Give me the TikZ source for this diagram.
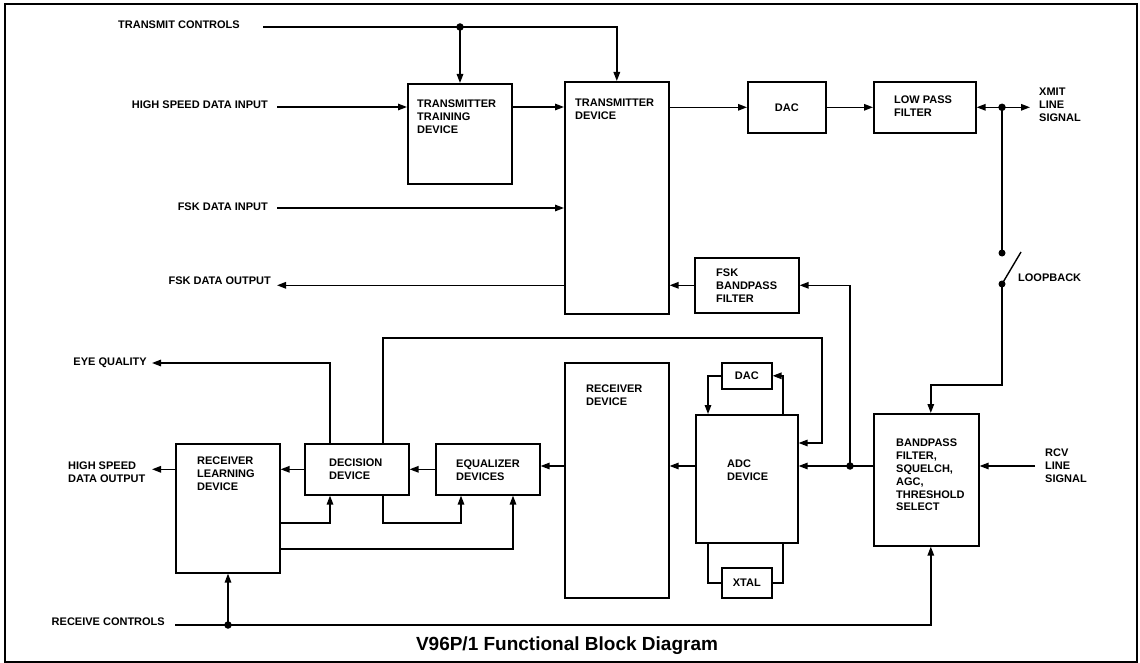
\documentclass[tikz,border=0pt]{standalone}
\usepackage{fontspec}
\setmainfont{Liberation Sans}
\usetikzlibrary{arrows.meta}
\begin{document}
\begin{tikzpicture}[x=1pt,y=-1pt,
  blk/.style={draw,line width=1.6pt,inner sep=0pt,anchor=north west},
  lbl/.style={font=\fontsize{11}{12.8}\selectfont\bfseries,inner sep=0pt,align=left},
  ctr/.style={font=\fontsize{11}{12.8}\selectfont\bfseries,inner sep=0pt},
  wire/.style={line width=1.4pt},
  arr/.style={wire,-{Triangle[length=9pt,width=6.5pt]}},
  dot/.style={circle,fill,inner sep=0pt,minimum size=7.5pt}
]
\useasboundingbox (0,0) rectangle (1140,663);
\draw[line width=1.5pt] (5,4) rectangle (1137,662);

% boxes
\node[blk,minimum width=104pt,minimum height=100pt] (ttd) at (407,83) {};
\node[blk,minimum width=104pt,minimum height=232pt] (td) at (564,81) {};
\node[blk,minimum width=78pt,minimum height=51pt] (dac1) at (747,81) {};
\node[blk,minimum width=102pt,minimum height=51pt] (lpf) at (873,81) {};
\node[blk,minimum width=104pt,minimum height=55pt] (fsk) at (694,257) {};
\node[blk,minimum width=50pt,minimum height=26pt] (dac2) at (721,362) {};
\node[blk,minimum width=102pt,minimum height=128pt] (adc) at (695,414) {};
\node[blk,minimum width=50pt,minimum height=30pt] (xtal) at (721,567) {};
\node[blk,minimum width=104pt,minimum height=235pt] (rd) at (564,362) {};
\node[blk,minimum width=104pt,minimum height=51pt] (eq) at (435,443) {};
\node[blk,minimum width=104pt,minimum height=51pt] (dd) at (304,443) {};
\node[blk,minimum width=104pt,minimum height=129pt] (rl) at (175,443) {};
\node[blk,minimum width=105pt,minimum height=132pt] (bpf) at (873,413) {};

% box texts
\node[lbl,anchor=north west] (ttdT) at (417,100) {TRANSMITTER\\TRAINING\\DEVICE};
\node[lbl,anchor=north west] (tdT) at (575,99) {TRANSMITTER\\DEVICE};
\node[ctr] (dac1T) at (dac1.center) {DAC};
\node[lbl,anchor=north west] (lpfT) at (894,96) {LOW PASS\\FILTER};
\node[lbl,anchor=north west] (fskT) at (716,269) {FSK\\BANDPASS\\FILTER};
\node[ctr] (dac2T) at (dac2.center) {DAC};
\node[lbl,anchor=north west] (adcT) at (727,460) {ADC\\DEVICE};
\node[ctr] (xtalT) at (xtal.center) {XTAL};
\node[lbl,anchor=north west] (rdT) at (586,385) {RECEIVER\\DEVICE};
\node[lbl,anchor=north west] (eqT) at (456,460) {EQUALIZER\\DEVICES};
\node[lbl,anchor=north west] (ddT) at (329,459) {DECISION\\DEVICE};
\node[lbl,anchor=north west] (rlT) at (197,457) {RECEIVER\\LEARNING\\DEVICE};
\node[lbl,anchor=north west] (bpfT) at (896,439) {BANDPASS\\FILTER,\\SQUELCH,\\AGC,\\THRESHOLD\\SELECT};

% outside labels
\node[lbl,anchor=north east] (tcL) at (240,21) {TRANSMIT CONTROLS};
\node[lbl,anchor=north east] (hsdiL) at (268,101) {HIGH SPEED DATA INPUT};
\node[lbl,anchor=north east] (fdiL) at (268,203) {FSK DATA INPUT};
\node[lbl,anchor=north east] (fdoL) at (271,277) {FSK DATA OUTPUT};
\node[lbl,anchor=north east] (eyeL) at (147,358) {EYE QUALITY};
\node[lbl,anchor=north west] (hsdoL) at (68,462) {HIGH SPEED\\DATA OUTPUT};
\node[lbl,anchor=north east] (rcL) at (165,618) {RECEIVE CONTROLS};
\node[lbl,anchor=north west] (xmitL) at (1039,88) {XMIT\\LINE\\SIGNAL};
\node[lbl,anchor=north west] (loopL) at (1018,274) {LOOPBACK};
\node[lbl,anchor=north west] (rcvL) at (1045,449) {RCV\\LINE\\SIGNAL};
\node[font=\fontsize{19}{22}\selectfont\bfseries,inner sep=0pt,anchor=north] (title) at (567,637) {V96P/1 Functional Block Diagram};

% helper coordinates
\coordinate (tcS) at (263,27);
\coordinate (hsdiS) at (277,107);
\coordinate (fdiS) at (277,208);
\coordinate (cF) at (277,0);
\coordinate (cX) at (1030,0);
\coordinate (cJ2) at (1002,0);
\coordinate (swE) at (1021,252);
\coordinate (lb) at (1002,385);
\coordinate (rcvS) at (1035,466);
\coordinate (lp) at (822,338);
\coordinate (cR) at (783,0);
\coordinate (cL) at (708,0);
\coordinate (cE) at (330,0);
\coordinate (cD) at (383,0);
\coordinate (cEq1) at (461,0);
\coordinate (cEq2) at (513,0);
\coordinate (cH) at (152,0);
\coordinate (f1) at (0,523);
\coordinate (f2) at (0,549);
\coordinate (eyeE) at (152,363);
\coordinate (rcS) at (175,625);

% junction dots
\node[dot] (j1) at (460,27) {};
\node[dot] (j2) at (lpf.east -| cJ2) {};
\node[dot,minimum size=7pt] (s1) at (1002,253) {};
\node[dot,minimum size=7pt] (s2) at (1002,284) {};
\node[dot] (j3) at (850,466) {};
\node[dot] (j4) at (228,625) {};

% transmit side
\draw[wire] (tcS) -- (j1.center);
\draw[arr] (j1.center) -- (j1 |- ttd.north);
\draw[arr] (j1.center) -| (td.north);
\draw[arr] (hsdiS) -- (hsdiS -| ttd.west);
\draw[arr] (hsdiS -| ttd.east) -- (hsdiS -| td.west);
\draw[arr] (dac1.west -| td.east) -- (dac1.west);
\draw[arr] (dac1.east) -- (lpf.west);
\draw[arr] (j2.center) -- (lpf.east);
\draw[arr] (j2.center) -- (j2 -| cX);
\draw[wire] (j2.center) -- (s1.center);
\draw[wire] (s2.center) -- (swE);
\draw[arr] (s2.center) -- (lb) -| ([xshift=4.5pt]bpf.north);
\draw[arr] (fdiS) -- (fdiS -| td.west);
\draw[arr] (fsk.west -| td.west) -- (fsk.west -| cF);
\draw[arr] (fsk.west) -- (fsk.west -| td.east);

% receive side
\draw[arr] (rcvS) -- (rcvS -| bpf.east);
\draw[wire] (j3 -| bpf.west) -- (j3.center);
\draw[arr] (j3.center) -- (j3 -| adc.east);
\draw[arr] (j3.center) |- (fsk.east);
\draw[arr] (dd.north -| cD) |- (lp) |- (adc.east |- eq.north);
\draw[arr] (adc.north -| cR) |- (dac2.east);
\draw[arr] (dac2.west) -| (adc.north -| cL);
\draw[wire] (adc.south -| cL) |- (xtal.west);
\draw[wire] (xtal.east) -| (adc.south -| cR);
\draw[arr] (adc.west |- j3) -- (j3 -| rd.east);
\draw[arr] (j3 -| rd.west) -- (j3 -| eq.east);
\draw[arr] (eq.west) -- (dd.east);
\draw[arr] (dd.west) -- (dd.west -| rl.east);
\draw[arr] (dd.west -| rl.west) -- (dd.west -| cH);
\draw[arr] (dd.north -| cE) |- (eyeE);
\draw[arr] (rl.east |- f1) -| (dd.south -| cE);
\draw[arr] (dd.south -| cD) |- (f1 -| cEq1) -- (eq.south -| cEq1);
\draw[arr] (rl.east |- f2) -| (eq.south -| cEq2);
\draw[wire] (rcS) -- (j4.center);
\draw[arr] (j4.center) -- (j4 |- rl.south);
\draw[arr] (j4.center) -| ([xshift=4.5pt]bpf.south);
\end{tikzpicture}
\end{document}
